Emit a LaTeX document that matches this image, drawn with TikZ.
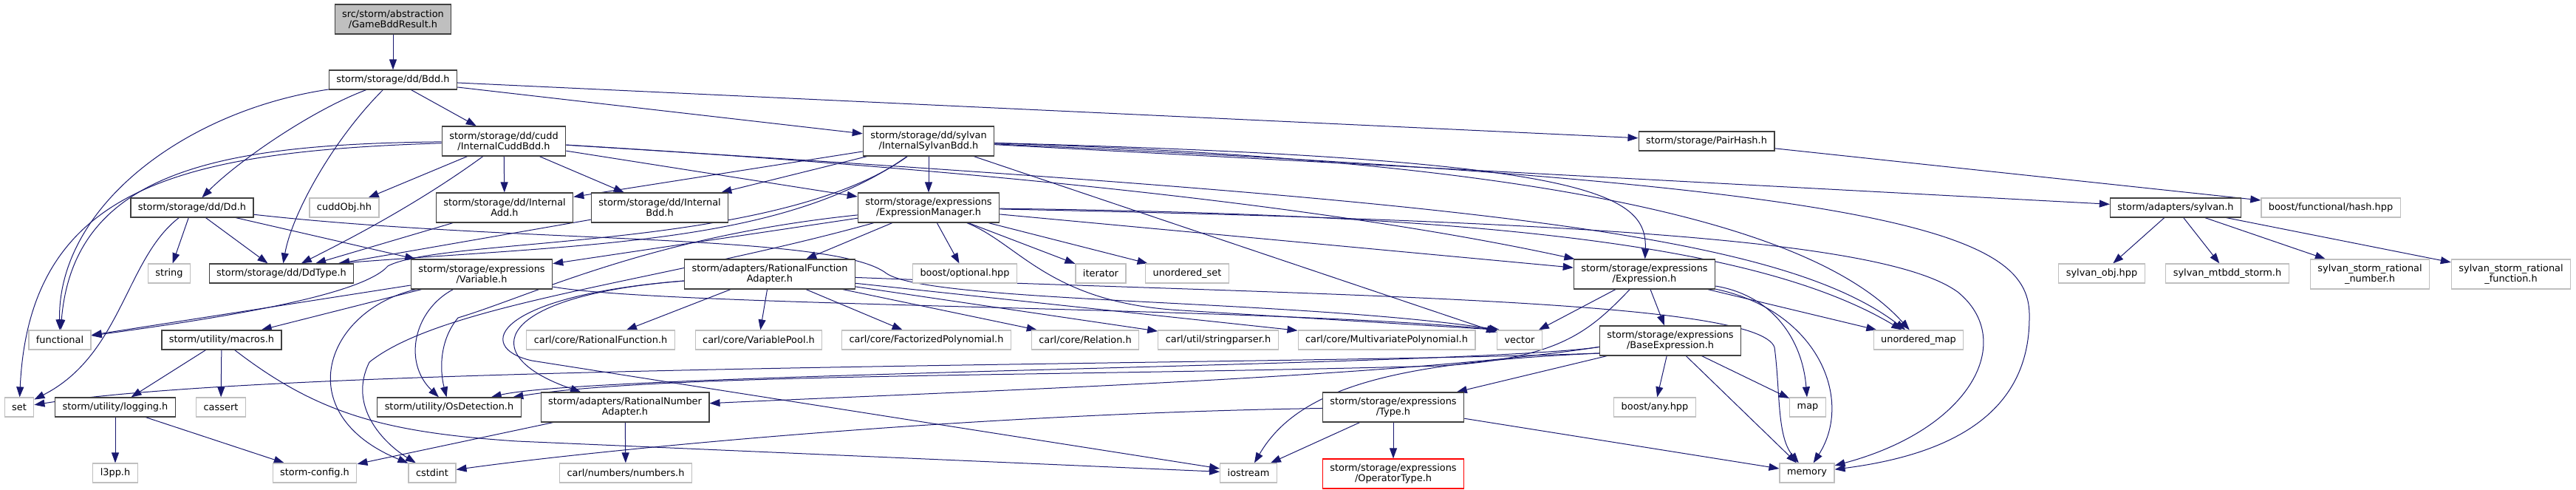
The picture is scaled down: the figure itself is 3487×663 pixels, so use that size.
\documentclass[tikz,border=0pt]{standalone}
\usepackage{fontspec}
\setmainfont{DejaVu Sans}
\usetikzlibrary{arrows.meta,backgrounds}
\definecolor{edgeblue}{HTML}{191970}
\tikzset{
  hdr/.style={draw=black!75, line width=1.2pt, fill=white, inner xsep=10pt, inner ysep=2pt,
              minimum height=26pt, align=center, font=\fontsize{12.9}{14}\selectfont},
  two/.style={minimum height=40pt},
  sys/.style={hdr, draw=gray!50},
  root/.style={hdr, fill=gray!50},
  miss/.style={hdr, draw=red},
  dep/.style={draw=edgeblue, line width=1pt, -{Triangle[length=14pt,width=10pt]}},
}
\begin{document}
\begin{tikzpicture}[x=1pt,y=-1pt]
  \useasboundingbox (0,0) rectangle (3487,663);
  \node[root,two] (gbr) at (532,26) {src/storm/abstraction\\/GameBddResult.h};
  \node[hdr] (bdd) at (532,108) {storm/storage/dd/Bdd.h};
  \node[hdr,two] (cudd) at (682,191) {storm/storage/dd/cudd\\/InternalCuddBdd.h};
  \node[hdr,two] (syl) at (1257,191) {storm/storage/dd/sylvan\\/InternalSylvanBdd.h};
  \node[hdr] (pair) at (2310,191) {storm/storage/PairHash.h};
  \node[hdr] (dd) at (260,281) {storm/storage/dd/Dd.h};
  \node[sys] (cobj) at (466,281) {cuddObj.hh};
  \node[hdr,two] (iadd) at (683,281) {storm/storage/dd/Internal\\Add.h};
  \node[hdr,two] (ibdd) at (893,281) {storm/storage/dd/Internal\\Bdd.h};
  \node[hdr,two] (em) at (1257,281) {storm/storage/expressions\\/ExpressionManager.h};
  \node[hdr] (sylh) at (2945,281) {storm/adapters/sylvan.h};
  \node[sys] (bhash) at (3155,281) {boost/functional/hash.hpp};
  \node[sys] (str) at (229,370) {string};
  \node[hdr] (ddt) at (381,370) {storm/storage/dd/DdType.h};
  \node[hdr,two] (var) at (652,371) {storm/storage/expressions\\/Variable.h};
  \node[hdr,two] (rfa) at (1042,371) {storm/adapters/RationalFunction\\Adapter.h};
  \node[sys] (opt) at (1306,370) {boost/optional.hpp};
  \node[sys] (iter) at (1490,370) {iterator};
  \node[sys] (uset) at (1607,370) {unordered\_set};
  \node[hdr,two] (expr) at (2226,371) {storm/storage/expressions\\/Expression.h};
  \node[sys] (sobj) at (2845,370) {sylvan\_obj.hpp};
  \node[sys] (smtb) at (3015,370) {sylvan\_mtbdd\_storm.h};
  \node[sys,two] (srn) at (3208,371) {sylvan\_storm\_rational\\\_number.h};
  \node[sys,two] (srf) at (3399,371) {sylvan\_storm\_rational\\\_function.h};
  \node[sys] (func) at (81,460) {functional};
  \node[hdr] (mac) at (300,460) {storm/utility/macros.h};
  \node[sys] (crf) at (813,460) {carl/core/RationalFunction.h};
  \node[sys] (cvp) at (1027,460) {carl/core/VariablePool.h};
  \node[sys] (cfp) at (1254,460) {carl/core/FactorizedPolynomial.h};
  \node[sys] (crel) at (1469,460) {carl/core/Relation.h};
  \node[sys] (csp) at (1649,460) {carl/util/stringparser.h};
  \node[sys] (cmp) at (1877,460) {carl/core/MultivariatePolynomial.h};
  \node[sys] (vec) at (2057,460) {vector};
  \node[hdr,two] (bexp) at (2261,461) {storm/storage/expressions\\/BaseExpression.h};
  \node[sys] (umap) at (2597,460) {unordered\_map};
  \node[sys] (set) at (26,551) {set};
  \node[hdr] (log) at (156,551) {storm/utility/logging.h};
  \node[sys] (cas) at (299,551) {cassert};
  \node[hdr] (osd) at (608,551) {storm/utility/OsDetection.h};
  \node[hdr,two] (rna) at (846,551) {storm/adapters/RationalNumber\\Adapter.h};
  \node[hdr,two] (type) at (1886,551) {storm/storage/expressions\\/Type.h};
  \node[sys] (bany) at (2240,551) {boost/any.hpp};
  \node[sys] (map) at (2447,551) {map};
  \node[sys] (l3) at (156,640) {l3pp.h};
  \node[sys] (cfg) at (426,640) {storm-config.h};
  \node[sys] (cstd) at (585,640) {cstdint};
  \node[sys] (num) at (847,640) {carl/numbers/numbers.h};
  \node[sys] (ios) at (1690,640) {iostream};
  \node[miss,two] (op) at (1886,641) {storm/storage/expressions\\/OperatorType.h};
  \node[sys] (mem) at (2446,640) {memory};
  \begin{scope}[on background layer]
  \draw[dep] (gbr) -- (bdd);
  \draw[dep] (bdd) .. controls (250,150) and (78,280) .. (func);
  \draw[dep] (bdd) .. controls (420,150) and (320,220) .. (dd);
  \draw[dep] (bdd) .. controls (450,190) and (395,290) .. (ddt);
  \draw[dep] (bdd) -- (cudd);
  \draw[dep] (bdd) -- (syl);
  \draw[dep] (bdd) -- (pair);
  \draw[dep] (cudd) .. controls (300,195) and (100,230) .. (func);
  \draw[dep] (cudd) .. controls (250,205) and (40,250) .. (set);
  \draw[dep] (cudd) -- (cobj);
  \draw[dep] (cudd) .. controls (560,280) and (460,330) .. (ddt);
  \draw[dep] (cudd) -- (iadd);
  \draw[dep] (cudd) -- (ibdd);
  \draw[dep] (cudd) -- (em);
  \draw[dep] (cudd) .. controls (1500,240) and (1900,300) .. (expr);
  \draw[dep] (cudd) .. controls (1950,270) and (2400,310) .. (umap);
  \draw[dep] (syl) -- (iadd);
  \draw[dep] (syl) -- (ibdd);
  \draw[dep] (syl) .. controls (1060,330) and (800,330) .. ([xshift=-22pt]ddt.north east);
  \draw[dep] (syl) .. controls (1050,340) and (600,320) .. (525,360)
             .. controls (490,400) and (300,430) .. (func);
  \draw[dep] (syl) -- (em);
  \draw[dep] (syl) -- (vec);
  \draw[dep] (syl) -- (sylh);
  \draw[dep] (syl) .. controls (2150,215) and (2230,260) .. (expr);
  \draw[dep] (syl) .. controls (2200,220) and (2480,330) .. (umap);
  \draw[dep] (syl) .. controls (2600,250) and (2750,320) .. (2747,430)
             .. controls (2747,560) and (2640,615) .. (mem);
  \draw[dep] (pair) -- (bhash);
  \draw[dep] (dd) .. controls (170,350) and (165,480) .. (set);
  \draw[dep] (dd) -- (str);
  \draw[dep] (dd) -- (ddt);
  \draw[dep] (dd) -- (var);
  \draw[dep] (dd) .. controls (700,330) and (1130,315) .. (1200,370)
             .. controls (1260,410) and (1750,405) .. ([xshift=4pt]vec.north west);
  \draw[dep] (iadd) -- (ddt);
  \draw[dep] (ibdd) -- (ddt);
  \draw[dep] (em) -- (var);
  \draw[dep] (em) -- (rfa);
  \draw[dep] (em) -- (opt);
  \draw[dep] (em) -- (iter);
  \draw[dep] (em) -- (uset);
  \draw[dep] (em) -- (expr);
  \draw[dep] (em) .. controls (2000,290) and (2380,330) .. (umap);
  \draw[dep] (em) .. controls (2200,300) and (2560,330) .. (2650,395)
             .. controls (2730,460) and (2670,580) .. (mem);
  \draw[dep] (em) .. controls (900,380) and (600,410) .. (500,490)
             .. controls (470,550) and (520,600) .. (cstd);
  \draw[dep] (em) .. controls (880,320) and (720,400) .. (620,430)
             .. controls (595,460) and (595,500) .. (osd);
  \draw[dep] (em) .. controls (1380,330) and (1420,410) .. (1600,420)
             -- ([xshift=4pt]vec.north west);
  \draw[dep] (sylh) -- (sobj);
  \draw[dep] (sylh) -- (smtb);
  \draw[dep] (sylh) -- (srn);
  \draw[dep] (sylh) -- (srf);
  \draw[dep] (var) -- (func);
  \draw[dep] (var) -- (mac);
  \draw[dep] (var) .. controls (440,420) and (390,560) .. (cstd);
  \draw[dep] (var) .. controls (560,420) and (545,490) .. (osd);
  \draw[dep] (var) .. controls (900,415) and (1700,415) .. ([xshift=4pt]vec.north west);
  \draw[dep] (rfa) -- (crf);
  \draw[dep] (rfa) -- (cvp);
  \draw[dep] (rfa) -- (cfp);
  \draw[dep] (rfa) -- (crel);
  \draw[dep] (rfa) -- (csp);
  \draw[dep] (rfa) -- (cmp);
  \draw[dep] (rfa) .. controls (670,400) and (640,480) .. (rna);
  \draw[dep] (rfa) .. controls (670,400) and (640,470) .. (720,488) -- (ios);
  \draw[dep] (rfa) .. controls (1800,400) and (2380,405) .. (2402,470)
             .. controls (2410,530) and (2405,590) .. (mem);
  \draw[dep] (expr) -- (vec);
  \draw[dep] (expr) -- (bexp);
  \draw[dep] (expr) .. controls (2400,400) and (2440,460) .. (map);
  \draw[dep] (expr) .. controls (2460,420) and (2510,540) .. (mem);
  \draw[dep] (expr) -- (umap);
  \draw[dep] (expr) .. controls (2150,450) and (2110,485) .. (1950,495)
             .. controls (1400,510) and (900,505) .. (osd);
  \draw[dep] (bexp) -- (bany);
  \draw[dep] (bexp) -- (map);
  \draw[dep] (bexp) -- (mem);
  \draw[dep] (bexp) -- (type);
  \draw[dep] (bexp.190) .. controls (1700,495) and (400,492) .. (set);
  \draw[dep] (bexp.185) .. controls (2000,495) and (800,505) .. (osd);
  \draw[dep] (bexp.185) .. controls (1900,510) and (1300,530) .. (rna);
  \draw[dep] (bexp.190) .. controls (1900,490) and (1760,520) .. (ios);
  \draw[dep] (type) -- (op);
  \draw[dep] (type) -- (ios);
  \draw[dep] (type) -- (mem);
  \draw[dep] (type) .. controls (1300,560) and (800,610) .. (cstd);
  \draw[dep] (mac) -- (log);
  \draw[dep] (mac) -- (cas);
  \draw[dep] (mac) .. controls (430,560) and (520,585) .. (700,597) -- (ios);
  \draw[dep] (log) -- (l3);
  \draw[dep] (log) -- (cfg);
  \draw[dep] (rna) -- (num);
  \draw[dep] (rna) -- (cfg);
  \end{scope}
\end{tikzpicture}
\end{document}
